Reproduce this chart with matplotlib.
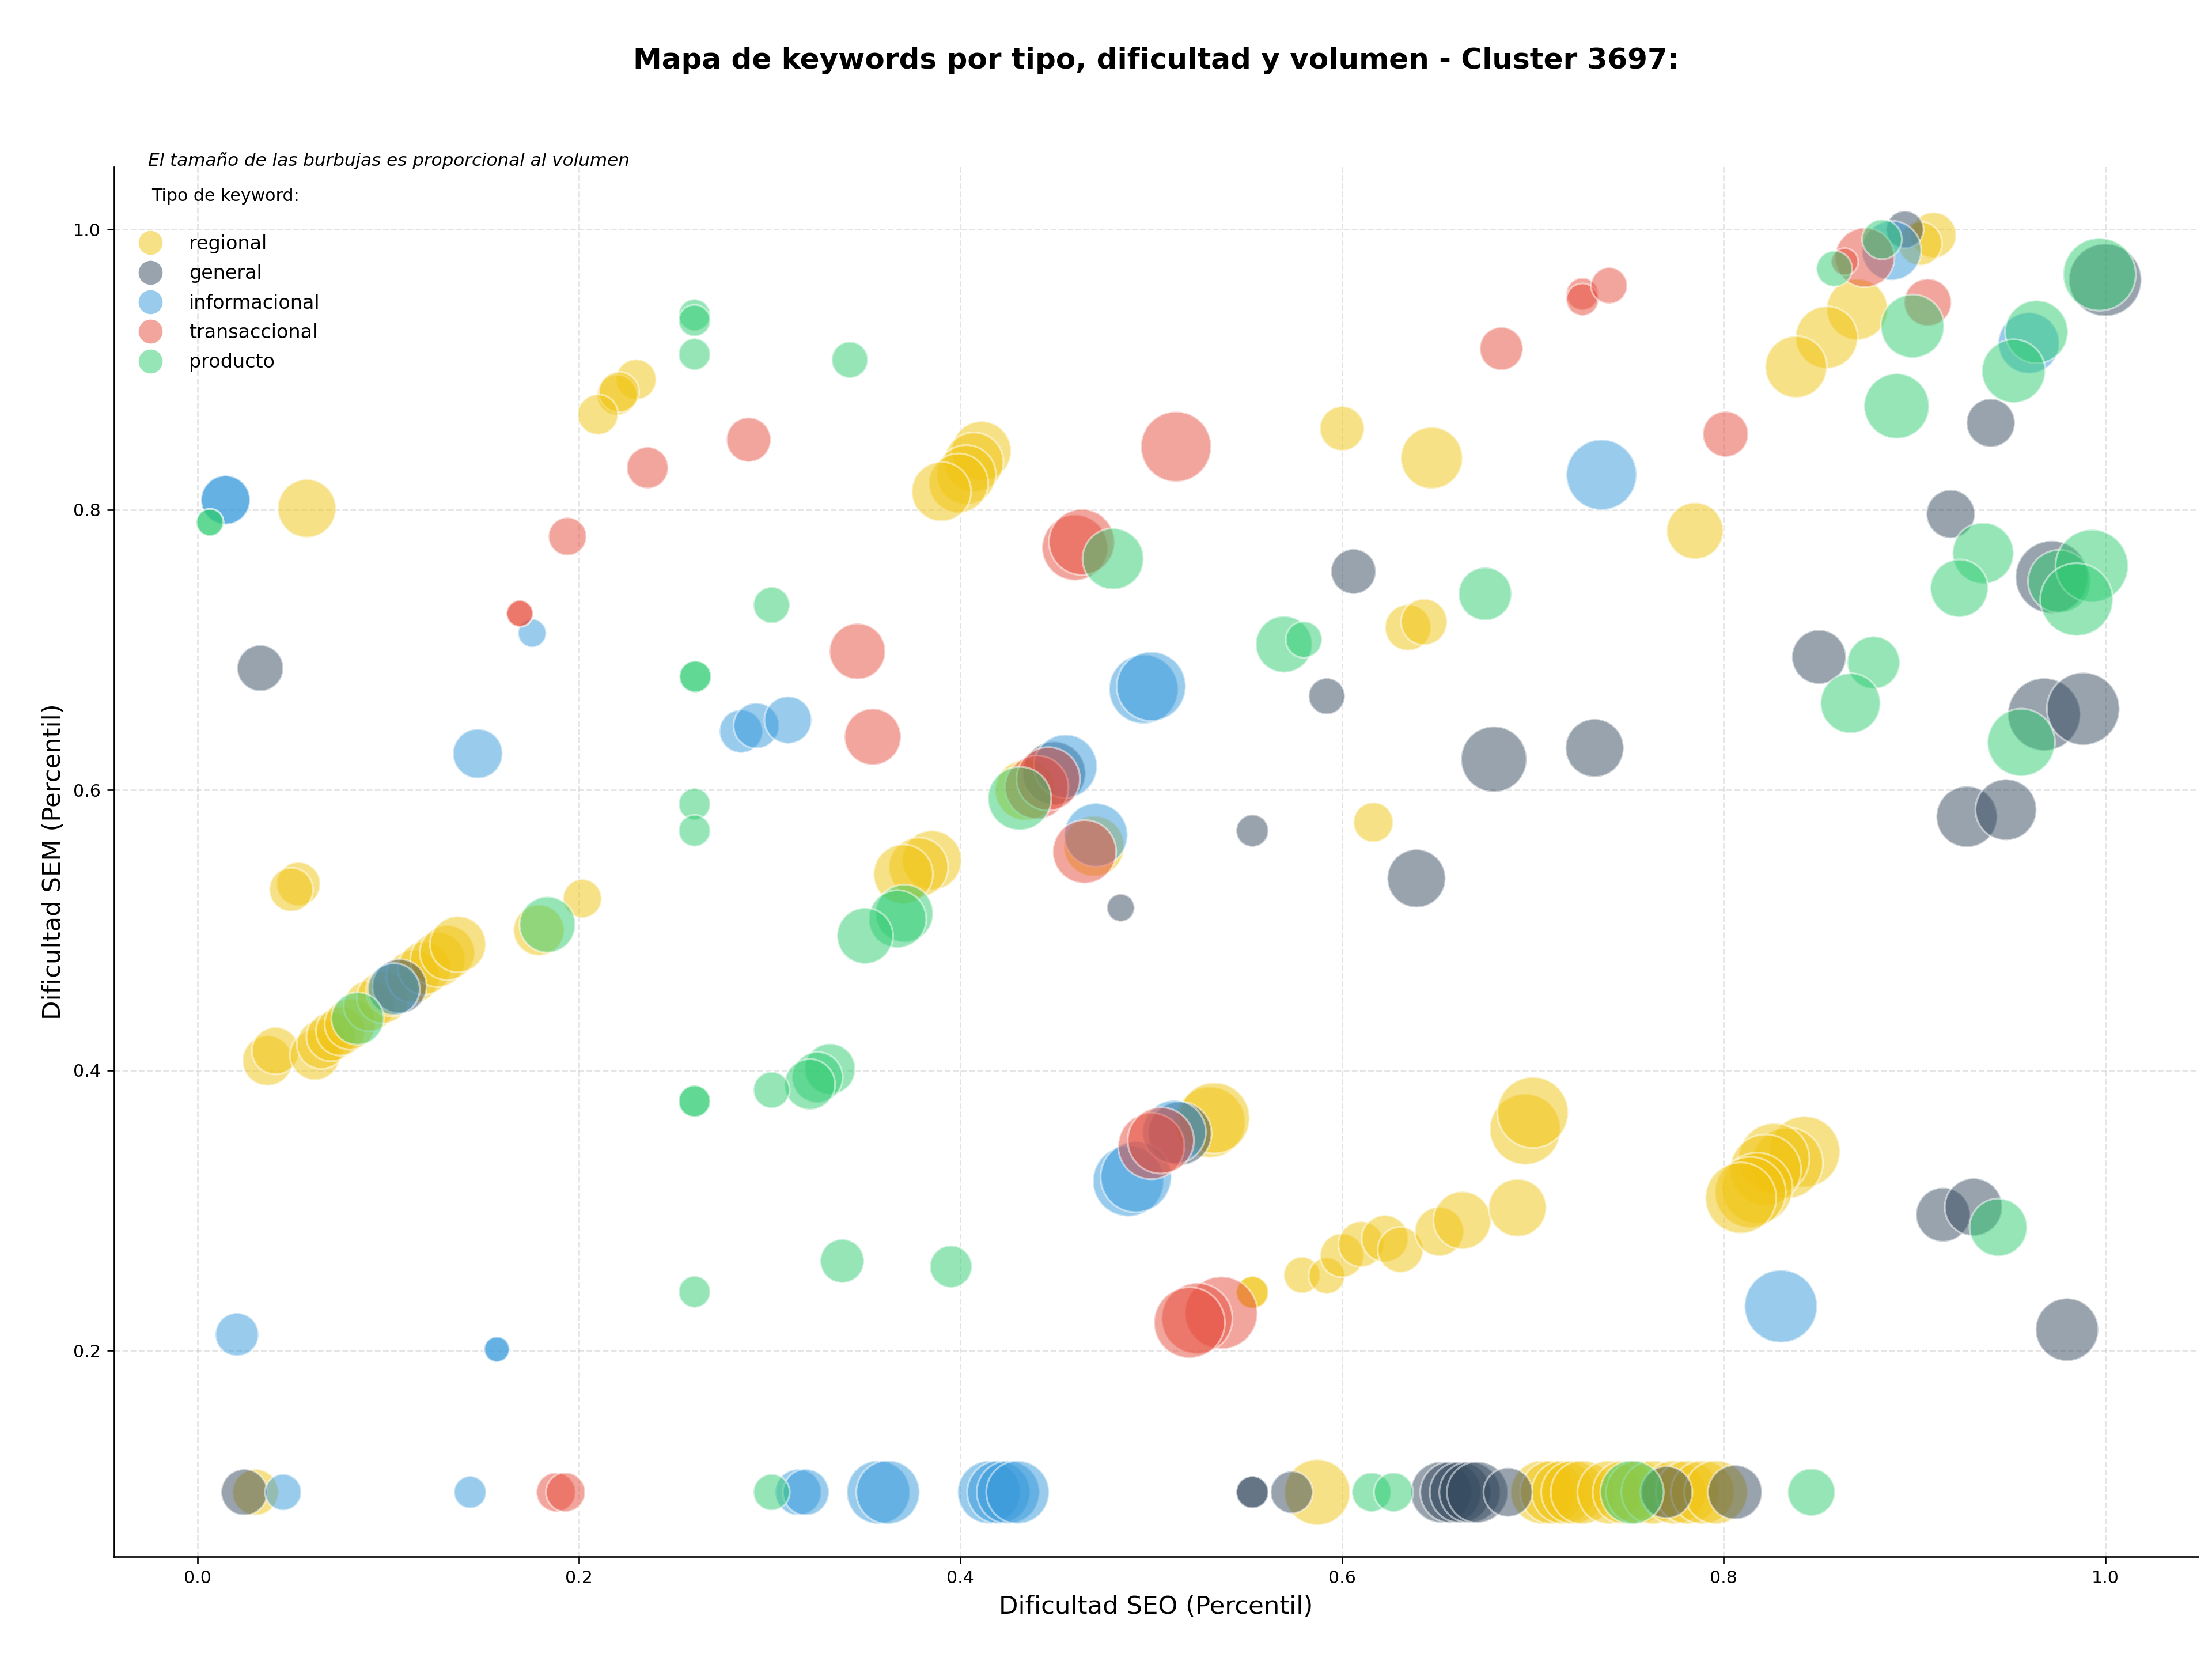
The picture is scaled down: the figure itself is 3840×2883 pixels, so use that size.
import numpy as np
import matplotlib
matplotlib.use("Agg")
import matplotlib.pyplot as plt
from matplotlib.lines import Line2D

# keyword types and colours
tipos = ["regional", "general", "informacional", "transaccional", "producto"]
colores = ["#f1c40f", "#34495e", "#3498db", "#e74c3c", "#2ecc71"]

# regional
x_reg = [0.910, 0.903, 0.870, 0.854, 0.838, 0.785, 0.647, 0.600, 0.6346, 0.643, 0.6164,
         0.230, 0.220, 0.221, 0.210, 0.0574,
         0.411, 0.407, 0.403, 0.399, 0.390, 0.385, 0.378, 0.370, 0.434, 0.470,
         0.5307, 0.533, 0.553, 0.553,
         0.579, 0.592, 0.600, 0.610, 0.6225, 0.6306, 0.651, 0.663, 0.692, 0.696, 0.700,
         0.8424, 0.8335, 0.8264, 0.822, 0.8176, 0.814, 0.809,
         0.053, 0.0492,
         0.0368, 0.041, 0.0617, 0.065, 0.070, 0.075, 0.080, 0.090, 0.0972, 0.102,
         0.113, 0.119, 0.126, 0.131, 0.1366,
         0.179, 0.2018,
         0.0305, 0.587, 0.705, 0.710, 0.716, 0.721, 0.726,
         0.740, 0.748, 0.755, 0.763, 0.774, 0.781, 0.789, 0.796]
y_reg = [0.996, 0.990, 0.943, 0.923, 0.902, 0.785, 0.837, 0.858, 0.716, 0.720, 0.577,
         0.893, 0.882, 0.884, 0.868, 0.801,
         0.842, 0.834, 0.825, 0.819, 0.813, 0.550, 0.545, 0.540, 0.600, 0.560,
         0.363, 0.366, 0.2416, 0.2416,
         0.254, 0.2535, 0.268, 0.276, 0.280, 0.272, 0.285, 0.293, 0.302, 0.358, 0.370,
         0.342, 0.334, 0.337, 0.329, 0.316, 0.313, 0.309,
         0.533, 0.529,
         0.407, 0.414, 0.411, 0.4186, 0.424, 0.428, 0.433, 0.446, 0.452, 0.457,
         0.467, 0.473, 0.479, 0.484, 0.490,
         0.500, 0.5226,
         0.099, 0.099, 0.099, 0.099, 0.099, 0.099, 0.099,
         0.099, 0.099, 0.099, 0.099, 0.099, 0.099, 0.099, 0.099]
v_reg = [562, 520, 1011, 1050, 1030, 864, 1030, 534, 576, 576, 428,
         441, 441, 441, 441, 918,
         955, 955, 955, 955, 955, 955, 955, 955, 992, 992,
         1362, 1362, 282, 282,
         357, 357, 520, 562, 590, 562, 650, 900, 900, 1362, 1362,
         1362, 1362, 1362, 1362, 1362, 1362, 1362,
         520, 520,
         681, 605, 681, 650, 650, 650, 697, 697, 729, 729,
         762, 762, 812, 812, 847,
         697, 404,
         576, 1170, 1089, 1089, 1089, 1089, 1089,
         1089, 1089, 1089, 1089, 1089, 1089, 1089, 1089]

# general
x_gen = [0.895, 1.000, 0.940, 0.919, 0.972, 0.850, 0.968, 0.9885, 0.9275, 0.948,
         0.915, 0.931, 0.980, 0.606, 0.592, 0.6796, 0.7324, 0.553, 0.639, 0.484,
         0.033, 0.106, 0.449, 0.515,
         0.0246, 0.553, 0.553, 0.5736, 0.652, 0.657, 0.662, 0.667, 0.671, 0.687,
         0.770, 0.806]
y_gen = [1.000, 0.964, 0.862, 0.797, 0.752, 0.695, 0.654, 0.658, 0.581, 0.586,
         0.297, 0.3025, 0.215, 0.756, 0.667, 0.622, 0.630, 0.571, 0.537, 0.516,
         0.687, 0.460, 0.612, 0.355,
         0.099, 0.099, 0.099, 0.099, 0.099, 0.099, 0.099, 0.099, 0.099, 0.099,
         0.099, 0.099]
v_gen = [380, 1429, 635, 635, 1429, 795, 1429, 1429, 1011, 1011,
         795, 900, 1069, 548, 357, 1170, 918, 282, 918, 207,
         576, 795, 1089, 1089,
         576, 282, 282, 480, 1011, 1011, 1011, 1011, 1011, 650,
         729, 795]

# informacional
x_inf = [0.888, 0.960, 0.736, 0.0148, 0.0148, 0.1755, 0.147, 0.285, 0.293, 0.3096,
         0.496, 0.500, 0.455, 0.471, 0.488, 0.492, 0.512, 0.830, 0.0208, 0.157,
         0.157, 0.103,
         0.045, 0.143, 0.315, 0.319, 0.357, 0.362, 0.415, 0.420, 0.425, 0.430]
y_inf = [0.985, 0.919, 0.825, 0.807, 0.807, 0.712, 0.626, 0.642, 0.646, 0.650,
         0.672, 0.674, 0.617, 0.568, 0.321, 0.324, 0.356, 0.2317, 0.2115, 0.201,
         0.201, 0.458,
         0.099, 0.099, 0.099, 0.099, 0.099, 0.099, 0.099, 0.099, 0.099, 0.099]
v_inf = [955, 1011, 1340, 650, 650, 216, 666, 506, 562, 605,
         1296, 1296, 1089, 1089, 1362, 1362, 1089, 1429, 506, 174,
         174, 729,
         357, 282, 576, 576, 1089, 1089, 1069, 1069, 1069, 1069]

# transaccional
x_tra = [0.874, 0.8635, 0.907, 0.801, 0.726, 0.726, 0.740, 0.6835, 0.513, 0.460,
         0.4636, 0.236, 0.289, 0.194, 0.169, 0.169, 0.346, 0.354, 0.440, 0.446,
         0.465, 0.500, 0.505, 0.5367, 0.524, 0.520,
         0.188, 0.193]
y_tra = [0.980, 0.977, 0.948, 0.854, 0.954, 0.950, 0.960, 0.915, 0.845, 0.773,
         0.777, 0.830, 0.850, 0.781, 0.726, 0.726, 0.699, 0.638, 0.602, 0.608,
         0.556, 0.346, 0.350, 0.227, 0.223, 0.220,
         0.099, 0.099]
v_tra = [955, 199, 605, 562, 282, 282, 357, 506, 1340, 1170,
         1170, 467, 534, 392, 190, 190, 847, 864, 1089, 1089,
         1089, 1190, 1190, 1429, 1362, 1362,
         416, 416]

# producto
x_pro = [0.883, 0.858, 0.899, 0.8907, 0.997, 0.964, 0.952, 0.936, 0.9235, 0.976,
         0.993, 0.985, 0.8786, 0.8665, 0.956, 0.944, 0.675, 0.5696, 0.580, 0.480,
         0.431, 0.2606, 0.2606, 0.2606, 0.342, 0.301, 0.261, 0.261, 0.0066, 0.0066,
         0.3706, 0.367, 0.350, 0.3316, 0.325, 0.321, 0.301, 0.2606, 0.2606, 0.338,
         0.395, 0.2606, 0.2606, 0.2606, 0.1835, 0.084,
         0.301, 0.6155, 0.627, 0.752, 0.846]
y_pro = [0.993, 0.972, 0.931, 0.874, 0.968, 0.927, 0.899, 0.769, 0.744, 0.749,
         0.760, 0.736, 0.691, 0.662, 0.634, 0.288, 0.740, 0.704, 0.7074, 0.765,
         0.594, 0.939, 0.935, 0.911, 0.907, 0.732, 0.681, 0.681, 0.791, 0.791,
         0.512, 0.508, 0.496, 0.401, 0.395, 0.390, 0.386, 0.378, 0.378, 0.264,
         0.260, 0.242, 0.590, 0.571, 0.504, 0.437,
         0.099, 0.099, 0.099, 0.099, 0.099]
v_pro = [428, 346, 1089, 1149, 1429, 1069, 1089, 1011, 900, 1069,
         1429, 1429, 745, 973, 1232, 900, 762, 864, 357, 1011,
         1089, 272, 272, 272, 357, 357, 272, 272, 199, 199,
         900, 900, 847, 697, 697, 697, 357, 272, 272, 520,
         480, 272, 272, 272, 847, 745,
         357, 416, 416, 1089, 605]

series = [(x_reg, y_reg, v_reg), (x_gen, y_gen, v_gen), (x_inf, y_inf, v_inf),
          (x_tra, y_tra, v_tra), (x_pro, y_pro, v_pro)]

fig = plt.figure(figsize=(16, 12.0125), dpi=240)
ax = fig.add_axes([0.0516, 0.0628, 0.9422, 0.837])

for (xs, ys, vs), tipo, col in zip(series, tipos, colores):
    ax.scatter(xs, ys, s=vs, color=col, alpha=0.5, edgecolors="white",
               linewidths=1.0, label=tipo)

ax.set_xlim(-0.0436, 1.0488)
ax.set_ylim(0.053, 1.045)
ax.set_xticks([0.0, 0.2, 0.4, 0.6, 0.8, 1.0])
ax.set_yticks([0.2, 0.4, 0.6, 0.8, 1.0])
ax.tick_params(labelsize=9)
ax.set_xlabel("Dificultad SEO (Percentil)", fontsize=13)
ax.set_ylabel("Dificultad SEM (Percentil)", fontsize=13)
ax.grid(True, linestyle="--", color="#cccccc", alpha=0.55, linewidth=0.8)
ax.set_axisbelow(True)
ax.spines["top"].set_visible(False)
ax.spines["right"].set_visible(False)

handles = [Line2D([0], [0], marker="o", linestyle="none", markersize=12.5,
                  markerfacecolor=c, markeredgecolor="none", alpha=0.5)
           for c in colores]
leg = ax.legend(handles, tipos, loc="upper left", bbox_to_anchor=(0.0, 0.997),
                frameon=False, fontsize=10, title="Tipo de keyword:\n",
                title_fontsize=9, handletextpad=1.0, labelspacing=0.55)

fig.text(0.0669, 0.9032, "El tamaño de las burbujas es proporcional al volumen",
         fontsize=9.3, style="italic", va="center", ha="left")
fig.text(0.5227, 0.9635, "Mapa de keywords por tipo, dificultad y volumen - Cluster 3697:",
         fontsize=15, fontweight="bold", ha="center", va="center")

fig.savefig("out.png", dpi=240)
